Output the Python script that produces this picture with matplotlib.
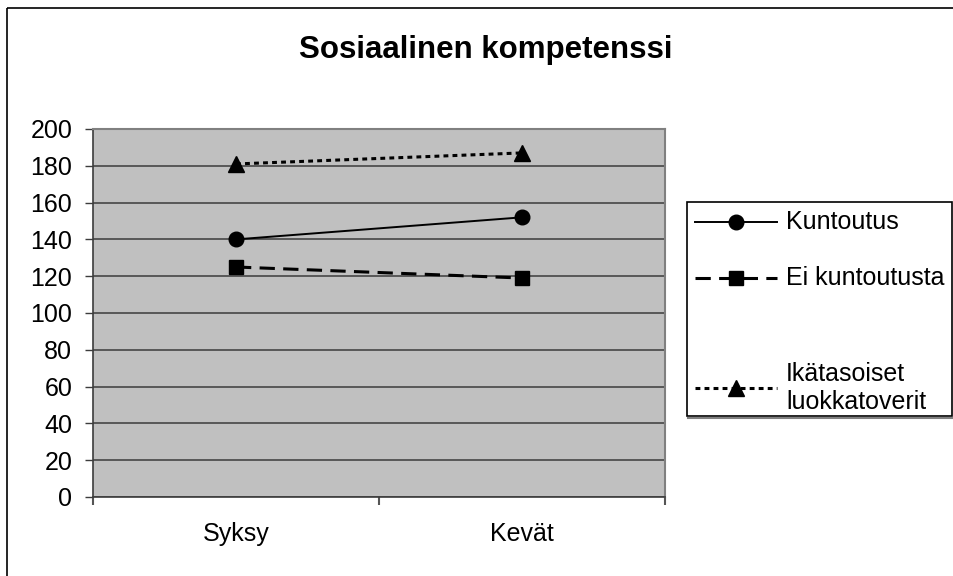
import matplotlib.pyplot as plt
from matplotlib.lines import Line2D
from matplotlib.patches import Rectangle

plt.rcParams['font.family'] = ['Liberation Sans', 'DejaVu Sans']
plt.rcParams['lines.scale_dashes'] = False

title = "Sosiaalinen kompetenssi"
seasons = ["Syksy", "Kevät"]
series_names = ["Kuntoutus", "Ei kuntoutusta", "Ikätasoiset\nluokkatoverit"]
kuntoutus = [140, 152]
ei_kuntoutusta = [125, 119]
luokkatoverit = [181, 187]
y_ticks = list(range(0, 201, 20))

styles = [
    dict(marker='o', markersize=10.5, linestyle='-', linewidth=1.4),
    dict(marker='s', markersize=10, linestyle=(0, (11, 6)), linewidth=2.2),
    dict(marker='^', markersize=11.5, linestyle=(0, (3.5, 3)), linewidth=2.2),
]

W, H = 954, 576
fig = plt.figure(figsize=(W / 100, H / 100), dpi=100)

# chart frame (only top/left edges fall inside the image)
fig.patches.append(Rectangle((7 / W, 1 - 8 / H), 2, -2, transform=fig.transFigure,
                             fill=False, edgecolor='black', linewidth=1.2))

ax = fig.add_axes([93 / W, 1 - 497 / H, (665 - 93) / W, (497 - 129) / H])
ax.set_facecolor('#c0c0c0')

x = list(range(len(seasons)))
for vals, st in zip([kuntoutus, ei_kuntoutusta, luokkatoverit], styles):
    ax.plot(x, vals, color='black', markerfacecolor='black', markeredgecolor='black',
            clip_on=False, zorder=3, **st)

ax.set_ylim(0, 200)
ax.set_yticks(y_ticks)
ax.yaxis.grid(True, color='#3c3c3c', linewidth=1.1)
ax.set_axisbelow(True)
ax.tick_params(axis='y', length=6, width=1, color='#3c3c3c', pad=9, labelsize=18)

ax.set_xlim(-0.5, len(seasons) - 0.5)
ax.set_xticks([i - 0.5 for i in range(len(seasons) + 1)])
ax.set_xticklabels([])
ax.set_xticks(x, minor=True)
ax.set_xticklabels(seasons, minor=True, fontsize=18)
ax.tick_params(axis='x', which='major', length=6, width=1.5, color='#555555')
ax.tick_params(axis='x', which='minor', length=0, pad=18)

for side in ['left', 'bottom']:
    ax.spines[side].set_color('#3c3c3c')
    ax.spines[side].set_linewidth(1.2)
for side in ['top', 'right']:
    ax.spines[side].set_color('#808080')
    ax.spines[side].set_linewidth(1.5)

fig.text(486 / W, 1 - 50 / H, title, ha='center', va='center',
         fontsize=22.5, fontweight='bold')

# legend box
lx0, ly0, lx1, ly1 = 687, 202, 952, 416
fig.patches.append(Rectangle((lx0 / W, 1 - ly1 / H), (lx1 - lx0) / W, (ly1 - ly0) / H,
                             transform=fig.transFigure, facecolor='white',
                             edgecolor='black', linewidth=1.2))
fig.lines.append(Line2D([(lx0 + 1) / W, lx1 / W], [1 - (ly1 + 1.5) / H] * 2,
                        transform=fig.transFigure, color='#808080', linewidth=1.5))
entry_y = [222, 278, 388]
for name, st, yy in zip(series_names, styles, entry_y):
    yf = 1 - yy / H
    fig.lines.append(Line2D([695 / W, 777 / W], [yf, yf], transform=fig.transFigure,
                            color='black', linestyle=st['linestyle'],
                            linewidth=st['linewidth']))
    fig.lines.append(Line2D([736 / W], [yf], transform=fig.transFigure,
                            color='black', marker=st['marker'],
                            markersize=st['markersize'], linestyle='none'))
    fig.text(786 / W, yf, name, ha='left', va='center', fontsize=18, linespacing=1.25)

fig.savefig('out.png', dpi=100)
